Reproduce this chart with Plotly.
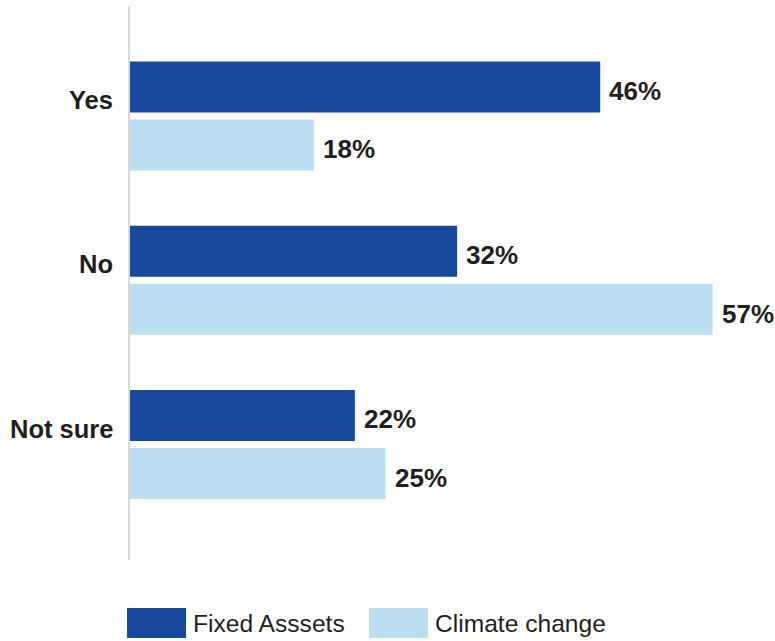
import plotly.graph_objects as go

# Survey responses (percent of respondents)
categories = ["Yes", "No", "Not sure"]
series_names = ["Fixed Asssets", "Climate change"]
fixed_assets = [46, 32, 22]
climate_change = [18, 57, 25]

DARK = "#17489b"
LIGHT = "#bddff2"
TEXT = "#231f20"
FONT = "Liberation Sans, Arial, sans-serif"

# Figure geometry (pixels)
W, H = 775, 641
ML, MR, MT, MB = 130, 0, 6, 81
PW, PH = W - ML - MR, H - MT - MB
X_MAX = 63.1

fig = go.Figure()
for name, vals, color in [(series_names[0], fixed_assets, DARK),
                          (series_names[1], climate_change, LIGHT)]:
    fig.add_trace(go.Bar(
        y=categories, x=vals, name=name, orientation="h",
        marker=dict(color=color, line=dict(width=0)),
        showlegend=False, hoverinfo="x+y",
    ))

# Value labels to the right of each bar
annotations = []
for vals, off in [(fixed_assets, -0.178), (climate_change, 0.178)]:
    for cat_idx, v in enumerate(vals):
        annotations.append(dict(
            x=v, y=cat_idx + off, xref="x", yref="y",
            text=f"<b>{v}%</b>", showarrow=False,
            xanchor="left", yanchor="middle", xshift=7, yshift=-4,
            font=dict(family=FONT, size=26, color=TEXT),
        ))

# Category labels on the left
for cat_idx, cat in enumerate(categories):
    annotations.append(dict(
        x=0, y=cat_idx, xref="paper", yref="y",
        text=f"<b>{cat}</b>", showarrow=False,
        xanchor="right", yanchor="middle", xshift=-15, yshift=16,
        font=dict(family=FONT, size=25.5, color=TEXT),
    ))

# Legend with large swatches below the plot
def px_x(px):
    return (px - ML) / PW

def px_y(py):
    return (H - MB - py) / PH

shapes = []
legend_items = [(series_names[0], DARK, 127), (series_names[1], LIGHT, 369)]
for name, color, x0 in legend_items:
    shapes.append(dict(
        type="rect", xref="paper", yref="paper",
        x0=px_x(x0), x1=px_x(x0 + 59), y0=px_y(638), y1=px_y(608),
        fillcolor=color, line=dict(width=0), layer="above",
    ))
    annotations.append(dict(
        x=px_x(x0 + 64), y=px_y(623), xref="paper", yref="paper",
        text=name, showarrow=False, xanchor="left", yanchor="middle",
        font=dict(family=FONT, size=24.6, color=TEXT),
    ))

fig.update_layout(
    width=W, height=H,
    margin=dict(l=ML, r=MR, t=MT, b=MB, pad=0),
    paper_bgcolor="white", plot_bgcolor="white",
    barmode="group", bargap=0.294, bargroupgap=0.12,
    xaxis=dict(range=[0, X_MAX], visible=False, fixedrange=True),
    yaxis=dict(
        type="category", categoryorder="array", categoryarray=categories,
        range=[2.703, -0.67], showticklabels=False, ticks="",
        showgrid=False, zeroline=False,
        showline=True, linecolor="#d9d9d9", linewidth=2,
        fixedrange=True,
    ),
    annotations=annotations,
    shapes=shapes,
    showlegend=False,
)

fig.write_html("out.html")
